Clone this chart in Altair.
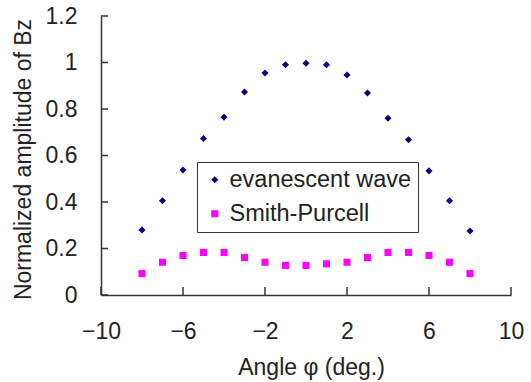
import altair as alt
import pandas as pd

angles = [-8, -7, -6, -5, -4, -3, -2, -1, 0, 1, 2, 3, 4, 5, 6, 7, 8]
evanescent = [0.28, 0.405, 0.538, 0.673, 0.765, 0.873, 0.955, 0.99, 0.997, 0.99, 0.946, 0.869, 0.76, 0.668, 0.534, 0.405, 0.275]
smith_purcell = [0.092, 0.141, 0.17, 0.183, 0.183, 0.161, 0.141, 0.127, 0.127, 0.134, 0.141, 0.161, 0.183, 0.183, 0.17, 0.141, 0.092]
series_names = ["evanescent wave", "Smith-Purcell"]
y_ticks = [0, 0.2, 0.4, 0.6, 0.8, 1, 1.2]
x_ticks = [-10, -6, -2, 2, 6, 10]

rows = []
for a, v in zip(angles, evanescent):
    rows.append({"angle": a, "value": v, "series": series_names[0]})
for a, v in zip(angles, smith_purcell):
    rows.append({"angle": a, "value": v, "series": series_names[1]})
df = pd.DataFrame(rows)

FONT = "Liberation Sans"
W, H = 410, 279

xscale = alt.Scale(domain=[-10, 10], nice=False, zero=False)
yscale = alt.Scale(domain=[0, 1.2], nice=False)

legend_opts = dict(title=None, orient="none", legendX=96, legendY=146,
                   strokeColor="#333333", fillColor="white",
                   padding=6, symbolOffset=0, rowPadding=9,
                   labelFont=FONT, labelFontSize=23.5, labelColor="#222222",
                   labelOffset=3, labelLimit=400, symbolSize=50,
                   symbolStrokeWidth=0)

points = alt.Chart(df).mark_point(filled=True, opacity=1, size=50).encode(
    x=alt.X("angle:Q", scale=xscale,
            axis=alt.Axis(values=x_ticks, ticks=False, tickSize=0, grid=False,
                          domainColor="#333333", domainWidth=1.5,
                          labelFont=FONT, labelFontSize=23, labelColor="#222222",
                          labelPadding=25, labelFlush=False,
                          title="Angle φ (deg.)", titleFont=FONT, titleFontSize=23,
                          titleFontWeight="normal", titleColor="#222222",
                          titleX=210, titleY=72, titleBaseline="middle")),
    y=alt.Y("value:Q", scale=yscale,
            axis=alt.Axis(values=y_ticks, format="~g", ticks=False, tickSize=0, grid=False,
                          domainColor="#333333", domainWidth=1.5,
                          labelFont=FONT, labelFontSize=23, labelColor="#222222",
                          labelPadding=24, labelFlush=False,
                          title="Normalized amplitude of Bz", titleFont=FONT, titleFontSize=23,
                          titleFontWeight="normal", titleColor="#222222",
                          titleX=-78, titleY=143, titleBaseline="middle")),
    color=alt.Color("series:N",
                    scale=alt.Scale(domain=series_names, range=["#000080", "#FF00FF"]),
                    legend=alt.Legend(**legend_opts)),
    shape=alt.Shape("series:N",
                    scale=alt.Scale(domain=series_names, range=["diamond", "square"]),
                    legend=alt.Legend(**legend_opts)),
)

ydf = pd.DataFrame({"t": y_ticks})
xdf = pd.DataFrame({"t": x_ticks})

yticks = alt.Chart(ydf).mark_rule(color="#333333", strokeWidth=1.5).encode(
    y=alt.Y("t:Q", scale=yscale), x=alt.value(0), x2=alt.value(7)
)
xticks = alt.Chart(xdf).mark_rule(color="#333333", strokeWidth=1.5).encode(
    x=alt.X("t:Q", scale=xscale), y=alt.value(H), y2=alt.value(H - 8)
)

chart = alt.layer(yticks, xticks, points).properties(
    width=W, height=H,
    autosize=alt.AutoSizeParams(type="none"),
    padding={"left": 101, "top": 16, "right": 20, "bottom": 87},
    background="white",
).configure_view(stroke=None)

chart.save("out.html", embed_options={"renderer": "svg", "actions": False})
